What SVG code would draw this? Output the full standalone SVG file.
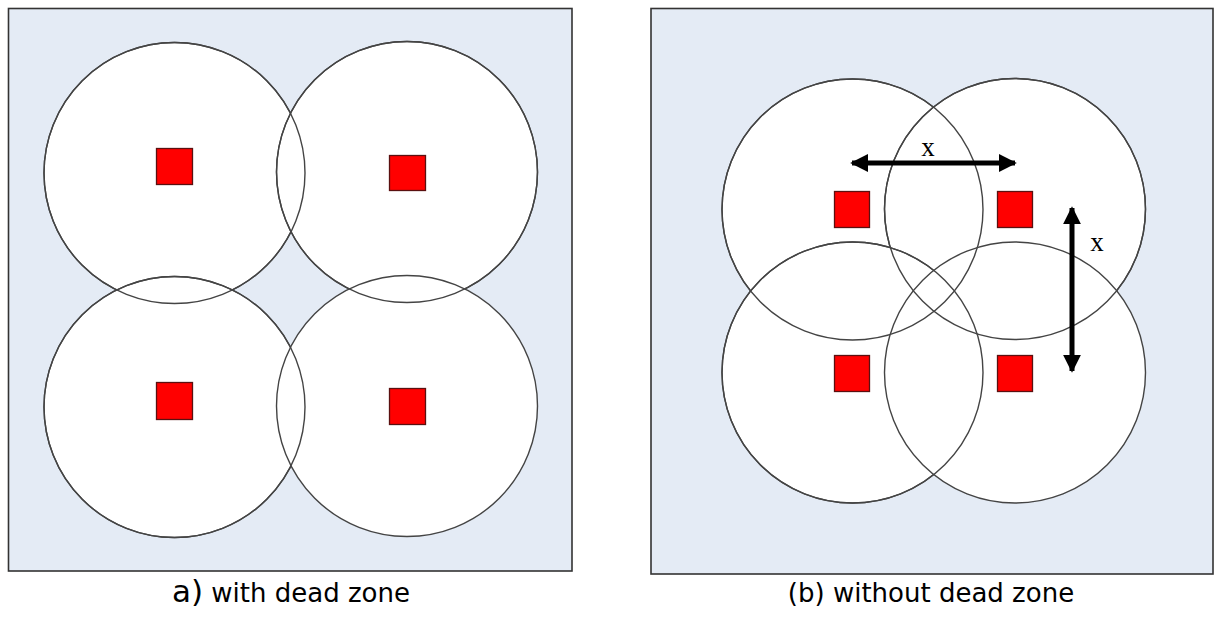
<svg xmlns="http://www.w3.org/2000/svg" width="1215" height="617" viewBox="0 0 1215 617">
<style>
.panel{fill:#e4ebf5;stroke:#333;stroke-width:1.6}
.cov{fill:#fff;stroke:#444;stroke-width:1.4}
.cline{fill:none;stroke:#444;stroke-width:1.4}
.node{fill:#f00;stroke:#5a1010;stroke-width:1.3}
.lbl{font-family:"Liberation Serif",serif;font-size:27px;fill:#000}
.cap{font-family:"DejaVu Sans",Verdana,sans-serif;font-size:26px;fill:#000}
.arr{stroke:#000;stroke-width:5;fill:none}
</style>
<defs>
<marker id="ah" viewBox="0 0 10 10" refX="9" refY="5" markerWidth="3.6" markerHeight="3.6" orient="auto-start-reverse" markerUnits="strokeWidth">
<path d="M0,0 L10,5 L0,10 z" fill="#000"/>
</marker>
</defs>
<rect class="panel" x="8.5" y="8.5" width="563.5" height="562.5"/>
<rect class="panel" x="651" y="8.5" width="562" height="565.5"/>
<g id="panel-a-circles">
<circle class="cov" cx="174.5" cy="173" r="130.5"/>
<circle class="cov" cx="407" cy="172" r="130.5"/>
<circle class="cov" cx="174.5" cy="407" r="130.5"/>
<circle class="cov" cx="407" cy="406" r="130.5"/>
<circle class="cline" cx="174.5" cy="173" r="130.5"/>
<circle class="cline" cx="407" cy="172" r="130.5"/>
<circle class="cline" cx="174.5" cy="407" r="130.5"/>
</g>
<g id="a-node1"><rect class="node" x="156.5" y="148.5" width="36" height="36"/></g>
<g id="a-node2"><rect class="node" x="389.5" y="155.5" width="36" height="35"/></g>
<g id="a-node3"><rect class="node" x="156.5" y="382.5" width="36" height="37"/></g>
<g id="a-node4"><rect class="node" x="389.5" y="388.5" width="36" height="36"/></g>
<g id="panel-b-circles">
<circle class="cov" cx="852.5" cy="209.5" r="130.5"/>
<circle class="cov" cx="1015" cy="209" r="130.5"/>
<circle class="cov" cx="852.5" cy="372.5" r="130.5"/>
<circle class="cov" cx="1015" cy="372.5" r="130.5"/>
<circle class="cline" cx="852.5" cy="209.5" r="130.5"/>
<circle class="cline" cx="1015" cy="209" r="130.5"/>
<circle class="cline" cx="852.5" cy="372.5" r="130.5"/>
</g>
<g id="b-node1"><rect class="node" x="834.5" y="191.5" width="35" height="36"/></g>
<g id="b-node2"><rect class="node" x="997.5" y="191.5" width="35" height="36"/></g>
<g id="b-node3"><rect class="node" x="834.5" y="355.5" width="35" height="36"/></g>
<g id="b-node4"><rect class="node" x="997.5" y="355.5" width="35" height="36"/></g>
<g id="connectors">
<line class="arr" x1="852" y1="163" x2="1015" y2="163" marker-start="url(#ah)" marker-end="url(#ah)"/>
<line class="arr" x1="1072" y1="208" x2="1072" y2="371" marker-start="url(#ah)" marker-end="url(#ah)"/>
</g>
<text class="lbl" x="928" y="156" text-anchor="middle">x</text>
<text class="lbl" x="1097" y="251" text-anchor="middle">x</text>
<text class="cap" x="291" y="602" text-anchor="middle"><tspan font-size="31">a)</tspan> with dead zone</text>
<text class="cap" x="931" y="602" text-anchor="middle">(b) without dead zone</text>
</svg>
